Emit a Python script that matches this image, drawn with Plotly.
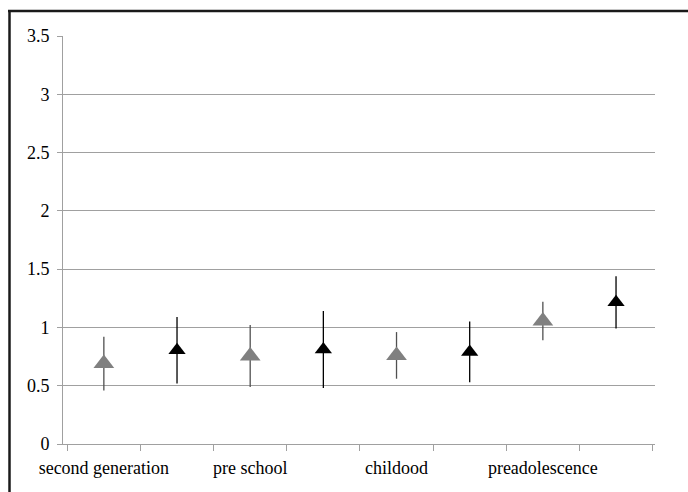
import plotly.graph_objects as go

groups = ["second generation", "pre school", "childood", "preadolescence"]
gray_mean = [0.69, 0.755, 0.76, 1.055]
gray_err = [0.23, 0.265, 0.20, 0.165]
black_mean = [0.805, 0.81, 0.79, 1.215]
black_err = [0.285, 0.33, 0.26, 0.225]
y_ticks = [0, 0.5, 1, 1.5, 2, 2.5, 3, 3.5]
y_tick_text = ["0", "0.5", "1", "1.5", "2", "2.5", "3", "3.5"]

# Category slots: labelled slot for the gray series, blank slot for the black one
gray_x = list(groups)
black_x = [" " * (i + 1) for i in range(len(groups))]
cat_order = []
for a, b in zip(gray_x, black_x):
    cat_order += [a, b]

FONT = "Times New Roman"

fig = go.Figure()
fig.add_trace(go.Scatter(
    x=gray_x, y=gray_mean, mode="markers",
    marker=dict(symbol="triangle-up", size=18, color="#808080"),
    error_y=dict(type="data", array=gray_err, visible=True, width=0,
                 thickness=1.3, color="#505050"),
    showlegend=False, cliponaxis=False,
))
fig.add_trace(go.Scatter(
    x=black_x, y=black_mean, mode="markers",
    marker=dict(symbol="triangle-up", size=15, color="#000000"),
    error_y=dict(type="data", array=black_err, visible=True, width=0,
                 thickness=1.3, color="#000000"),
    showlegend=False, cliponaxis=False,
))

L, R, T, B = 63, 33, 36, 48
W, H = 688, 492
pw, ph = W - L - R, H - T - B

def px(xp):
    return (xp - L) / pw

def py(yp):
    return (H - B - yp) / ph

fig.update_layout(
    width=W, height=H,
    margin=dict(l=L, r=R, t=T, b=B, autoexpand=False),
    paper_bgcolor="white", plot_bgcolor="white",
    font=dict(family=FONT, size=18, color="#000000"),
    hovermode=False,
    xaxis=dict(
        type="category", categoryorder="array", categoryarray=cat_order,
        tickson="boundaries", ticks="outside", ticklen=6, tickcolor="#a0a0a0",
        tickangle=0, automargin=False, ticklabelstandoff=7,
        showgrid=False, showline=True, linecolor="#a0a0a0", linewidth=1,
        tickfont=dict(family=FONT, size=18, color="#000000"),
        zeroline=False, fixedrange=True,
    ),
    yaxis=dict(
        range=[0, 3.5], tickvals=y_ticks, ticktext=y_tick_text,
        ticks="outside", ticklen=5, tickcolor="#a0a0a0", automargin=False,
        showgrid=True, gridcolor="#a0a0a0", gridwidth=1,
        showline=True, linecolor="#a0a0a0", linewidth=1,
        zeroline=False, ticklabelstandoff=4, fixedrange=True,
        tickfont=dict(family=FONT, size=18, color="#000000"),
    ),
    shapes=[
        dict(type="line", xref="paper", yref="paper",
             x0=px(8), x1=px(692), y0=py(11), y1=py(11),
             line=dict(color="#1a1a1a", width=2.5)),
        dict(type="line", xref="paper", yref="paper",
             x0=px(9.5), x1=px(9.5), y0=py(10), y1=py(496),
             line=dict(color="#1a1a1a", width=2.5)),
    ],
)

fig.write_html(
    "out.html",
    config={"displayModeBar": False, "staticPlot": True},
    post_script="document.body.style.margin='0';document.body.style.padding='0';",
)
